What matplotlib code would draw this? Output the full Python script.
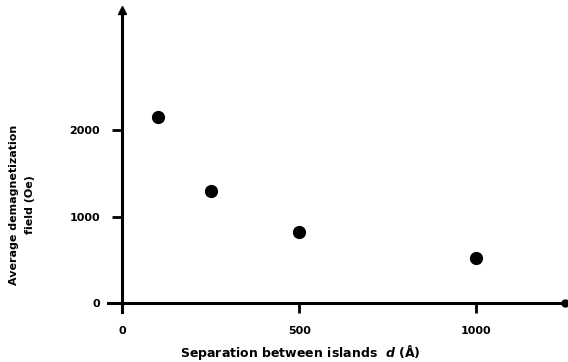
import matplotlib
matplotlib.use('Agg')
import matplotlib.pyplot as plt

# data
separation = [100, 250, 500, 1000]        # d (Å)
field = [2150, 1300, 820, 520]            # average demagnetization field (Oe)
xticks = [0, 500, 1000]
yticks = [0, 1000, 2000]

plt.rcParams['font.family'] = 'DejaVu Sans'
plt.rcParams['font.weight'] = 'bold'

fig = plt.figure(figsize=(5.68, 3.62), dpi=100)
ax = fig.add_axes([108 / 568, (362 - 312) / 362, (565 - 108) / 568, (312 - 10) / 362])

ax.plot(separation, field, 'o', color='black', markersize=8.5)

ax.set_xlim(-40, 1250)
ax.set_ylim(-100, 3390)

# axes cross at the origin, like the hand-drawn original
ax.spines['left'].set_position(('data', 0))
ax.spines['bottom'].set_position(('data', 0))
ax.spines['top'].set_visible(False)
ax.spines['right'].set_visible(False)
for s in ('left', 'bottom'):
    ax.spines[s].set_linewidth(2.2)

ax.plot(0, 1, '^k', markersize=6, transform=ax.get_xaxis_transform(), clip_on=False)
ax.plot(1, 0, 'ok', markersize=5, transform=ax.get_yaxis_transform(), clip_on=False)

ax.set_xticks(xticks)
ax.set_yticks(yticks)
ax.set_xticklabels([str(t) for t in xticks], fontsize=8, fontweight='heavy')
ax.set_yticklabels([str(t) for t in yticks], fontsize=8, fontweight='heavy')
ax.tick_params(axis='both', direction='out', length=7, width=2)
ax.tick_params(axis='x', pad=9)
ax.tick_params(axis='y', pad=9)

fig.text(300 / 568, 1 - 353 / 362, 'Separation between islands  $d$ (Å)',
         ha='center', va='center', fontsize=9, fontweight='heavy')
fig.text(22 / 568, 1 - 205 / 362, 'Average demagnetization\nfield (Oe)',
         ha='center', va='center', rotation=90, fontsize=8, fontweight='heavy',
         linespacing=1.7)

fig.savefig('out.png', dpi=100)
